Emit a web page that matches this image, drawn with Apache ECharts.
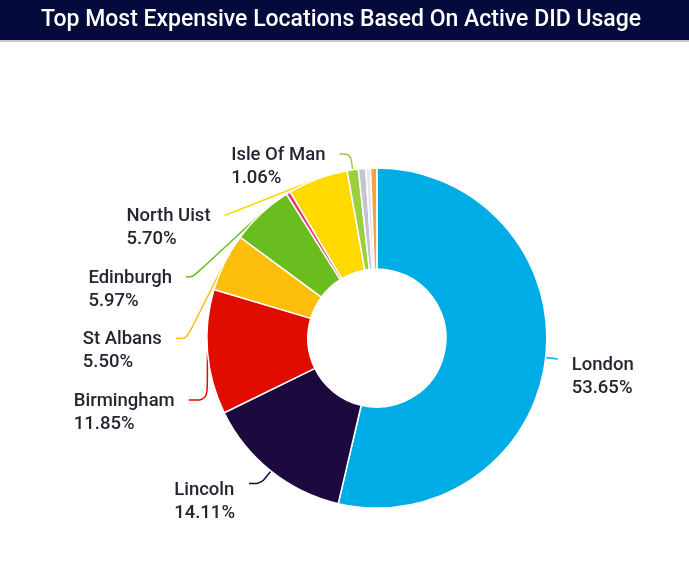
<!DOCTYPE html>
<html>
<head>
<meta charset="utf-8">
<script src="https://cdn.jsdelivr.net/npm/echarts@6/dist/echarts.min.js"></script>
<style>
html,body{margin:0;padding:0;background:#fff;}
#c{width:689px;height:575px;}
</style>
</head>
<body>
<div id="c"></div>
<script>
const titleText = 'Top Most Expensive Locations Based On Active DID Usage';
const categories = ['London','Lincoln','Birmingham','St Albans','Edinburgh','Other A','North Uist','Isle Of Man','Other B','Other C','Other D'];
const values = [53.65,14.11,11.85,5.50,5.97,0.42,5.70,1.06,0.70,0.44,0.60];
const showLabel = [true,true,true,true,true,false,true,true,false,false,false];
const colors = ['#00ace6','#1c0a3e','#e00c00','#fcbd0b','#69bd1f','#ec3a6e','#ffd900','#9ccf3e','#c4c4d0','#e6e6ee','#ffa040'];
const labelPadTop = [14,16,4,4,4,4,4,4,4,4,4];
const lineLen1 = [12,16,16,16,16,16,16,16,16,16,16];
const lineLen2 = [0,12,25,29,29,6,25,11,6,6,6];

const chart = echarts.init(document.getElementById('c'));
const data = categories.map((n,i)=>({
  name:n, value:values[i],
  itemStyle:{color:colors[i]},
  label:{show:showLabel[i],padding:[labelPadTop[i],0,0,0]},
  labelLine:{show:showLabel[i],length:lineLen1[i],length2:lineLen2[i]}
}));
const tok = {fontFamily:'Roboto',fontSize:18.5,fontWeight:500,color:'#262633',lineHeight:23,align:'left'};
chart.setOption({
  animation:false,
  graphic:[
    {type:'rect',left:0,top:0,shape:{width:689,height:40},style:{fill:'#050a3c'},z:-1},
    {type:'rect',left:0,top:40,shape:{width:689,height:2},style:{fill:'#c8c8d0'},z:-1}
  ],
  title:{
    text:titleText,left:36,top:4,
    textStyle:{color:'#ffffff',fontFamily:'Roboto',fontSize:23,fontWeight:500}
  },
  series:[{
    type:'pie',
    center:['54.7%','58.8%'],
    radius:[69,170],
    startAngle:90,
    clockwise:true,
    data:data,
    itemStyle:{borderColor:'#ffffff',borderWidth:1.5},
    label:{
      distanceToLabelLine:14,
      formatter:p=>'{s| }\n{a|'+p.name+'}\n{a|'+p.value.toFixed(2)+'%}',
      rich:{a:tok,s:{fontSize:10,lineHeight:21}}
    },
    labelLine:{smooth:true,lineStyle:{width:1.5}}
  }]
});
</script>
</body>
</html>
